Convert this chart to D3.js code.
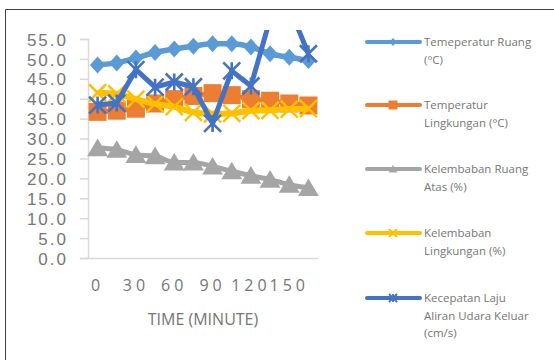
<!DOCTYPE html>
<html>
<head>
<meta charset="utf-8">
<script src="https://cdn.jsdelivr.net/npm/d3@7"></script>
<style>
  html, body { margin: 0; padding: 0; background: #fff; }
  svg { display: block; font-family: "Open Sans", "Noto Sans", sans-serif; }
</style>
</head>
<body>
<svg id="chart" width="554" height="360"></svg>
<script>
// Time in minutes (categories)
const times = [0, 15, 30, 45, 60, 75, 90, 105, 120, 135, 150, 165];
const xTickLabels = ["0", "30", "60", "90", "120", "150"];
const yTicks = [0, 5, 10, 15, 20, 25, 30, 35, 40, 45, 50, 55];

// Series values
const tempRuang = [48.5, 49.0, 50.2, 51.6, 52.5, 53.2, 53.8, 53.8, 53.0, 51.3, 50.4, 49.6];
const tempLingkungan = [36.7, 37.0, 37.5, 38.8, 39.9, 40.7, 41.4, 40.9, 39.9, 39.5, 38.8, 38.3];
const kelembabanRuangAtas = [27.6, 27.2, 25.9, 25.6, 24.0, 24.0, 23.0, 21.8, 20.7, 19.7, 18.4, 17.6];
const kelembabanLingkungan = [41.5, 41.2, 39.9, 38.7, 38.0, 36.6, 36.2, 36.3, 37.0, 37.1, 37.4, 37.5];
const kecepatanUdara = [38.4, 38.9, 47.3, 42.9, 44.2, 43.0, 33.8, 47.0, 43.2, 60.0, 63.0, 51.3];

const seriesNames = [
  ["Temeperatur Ruang", "(°C)"],
  ["Temperatur", "Lingkungan (°C)"],
  ["Kelembaban Ruang", "Atas (%)"],
  ["Kelembaban", "Lingkungan (%)"],
  ["Kecepatan Laju", "Aliran Udara Keluar", "(cm/s)"]
];
const seriesColors = ["#5B9BD5", "#ED7D31", "#A5A5A5", "#FFC000", "#4472C4"];
const seriesMarkers = ["diamond", "square", "triangle", "x", "star"];
const seriesValues = [tempRuang, tempLingkungan, kelembabanRuangAtas, kelembabanLingkungan, kecepatanUdara];

const series = seriesValues.map((values, i) => ({
  name: seriesNames[i], color: seriesColors[i], marker: seriesMarkers[i], values
}));

const svg = d3.select("#chart");

// outer frame
svg.append("path")
  .attr("d", "M5.5,360 V9.5 H554")
  .attr("fill", "none").attr("stroke", "#404040").attr("stroke-width", 1);

const plot = { left: 88, right: 318, top: 39, bottom: 258 };

const x = d3.scaleBand().domain(times).range([plot.left, plot.right]);
const y = d3.scaleLinear().domain([0, 55]).range([plot.bottom, plot.top]);
const cx = t => x(t) + x.bandwidth() / 2;

const textColor = "#767676";
const axisColor = "#d9d9d9";

// y axis
const yAxis = svg.append("g").attr("transform", `translate(${plot.left},0)`)
  .call(d3.axisLeft(y).tickValues(yTicks).tickFormat(d3.format(".1f")).tickSize(8).tickPadding(12));
yAxis.select(".domain").attr("stroke", axisColor).attr("stroke-width", 1.5);
yAxis.selectAll(".tick line").attr("stroke", axisColor).attr("stroke-width", 1.5);
yAxis.selectAll(".tick text")
  .attr("fill", textColor).attr("font-size", 17).attr("font-family", "Liberation Sans")
  .attr("dy", "0.36em").style("letter-spacing", "2px");

// x axis
const xTickValues = times.filter((t, i) => i % 2 === 0);
const xAxis = svg.append("g").attr("transform", `translate(0,${plot.bottom})`)
  .call(d3.axisBottom(x).tickValues(xTickValues)
    .tickFormat((d, i) => xTickLabels[i]).tickSize(0).tickPadding(22));
xAxis.select(".domain").attr("stroke", axisColor).attr("stroke-width", 1.5)
  .attr("d", `M${plot.left - 8},0.5H${plot.right}`);
xAxis.selectAll(".tick text")
  .attr("fill", textColor).attr("font-size", 16).attr("font-family", "Open Sans")
  .style("letter-spacing", "4px");

svg.append("text")
  .attr("x", 203).attr("y", 325)
  .attr("text-anchor", "middle")
  .attr("fill", textColor).attr("font-size", 16)
  .text("TIME (MINUTE)");

// clip for values running past the top of the axis
svg.append("defs").append("clipPath").attr("id", "plotClip")
  .append("rect").attr("x", plot.left - 20).attr("y", plot.top - 9)
  .attr("width", plot.right - plot.left + 40).attr("height", plot.bottom - plot.top + 30);

function markerPath(type, s) {
  const h = s / 2;
  switch (type) {
    case "diamond": return `M0,${-h}L${h * 0.9},0L0,${h}L${-h * 0.9},0Z`;
    case "square": return `M${-h},${-h}H${h}V${h}H${-h}Z`;
    case "triangle": return `M0,${-h}L${h * 1.1},${h * 0.85}H${-h * 1.1}Z`;
    case "x": return `M${-h},${-h}L${h},${h}M${h},${-h}L${-h},${h}`;
    case "star": return `M${-h},${-h}L${h},${h}M${h},${-h}L${-h},${h}M0,${-h}V${h}`;
  }
}
function markerStyle(sel, s) {
  const filled = s.marker === "diamond" || s.marker === "square" || s.marker === "triangle";
  sel.attr("fill", filled ? s.color : "none")
    .attr("stroke", s.color)
    .attr("stroke-width", filled ? 0 : (s.marker === "star" ? 2.6 : 2.5))
    .attr("stroke-linecap", "butt");
}
const markerSize = { diamond: 17, square: 18, triangle: 19, x: 17, star: 17 };
const lineWidth = [5.5, 5, 5, 6, 5];

const line = d3.line().x((d, i) => cx(times[i])).y(d => y(d)).curve(d3.curveMonotoneX);
const straight = d3.line().x((d, i) => cx(times[i])).y(d => y(d));

const plotG = svg.append("g").attr("clip-path", "url(#plotClip)");
series.forEach((s, si) => {
  const g = plotG.append("g");
  g.append("path")
    .datum(s.values)
    .attr("d", s.marker === "star" ? straight(s.values) : line(s.values))
    .attr("fill", "none")
    .attr("stroke", s.color)
    .attr("stroke-width", lineWidth[si])
    .attr("stroke-linejoin", "round");
  g.selectAll("path.m")
    .data(s.values)
    .join("path")
    .attr("class", "m")
    .attr("transform", (d, i) => `translate(${cx(times[i])},${y(d)})`)
    .attr("d", markerPath(s.marker, markerSize[s.marker]))
    .call(markerStyle, s);
});

// legend
const legendTop = [42, 105, 169, 233, 298];
const legend = svg.append("g");
series.forEach((s, i) => {
  const g = legend.append("g").attr("transform", `translate(0,${legendTop[i]})`);
  g.append("line").attr("x1", 367).attr("x2", 420).attr("y1", 0).attr("y2", 0)
    .attr("stroke", s.color).attr("stroke-width", 4).attr("stroke-linecap", "round");
  g.append("path").attr("transform", "translate(393,0)")
    .attr("d", markerPath(s.marker, s.marker === "square" ? 9 : 8))
    .call(markerStyle, s)
    .attr("stroke-width", s.marker === "x" || s.marker === "star" ? 1.8 : 0);
  const t = g.append("text").attr("x", 424).attr("y", 4)
    .attr("fill", textColor).attr("font-size", 11.5);
  s.name.forEach((ln, j) => {
    t.append("tspan").attr("x", 424).attr("dy", j === 0 ? 0 : 17.5).text(ln);
  });
});
</script>
</body>
</html>
